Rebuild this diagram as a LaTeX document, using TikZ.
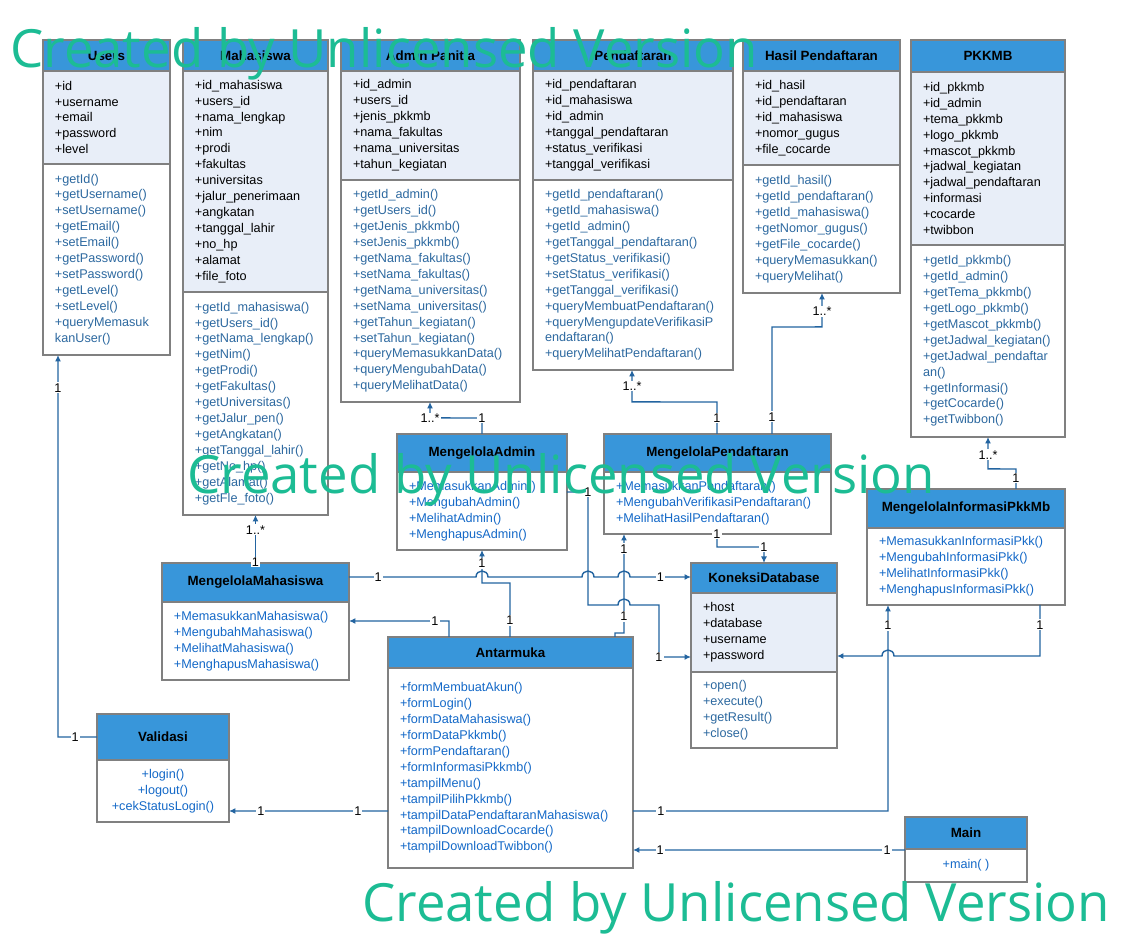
\documentclass[tikz,border=0pt]{standalone}
\usepackage{fontspec}
\setmainfont{Liberation Sans}
\newfontfamily\wmfont{Open Sans}
\usepackage{xcolor}
\usepackage{tikz}
\usetikzlibrary{positioning,calc,arrows.meta}

\definecolor{headblue}{RGB}{56,150,218}
\definecolor{attrfill}{RGB}{232,238,248}
\definecolor{boxgray}{RGB}{128,128,128}
\definecolor{methdark}{RGB}{45,105,160}
\definecolor{methblue}{RGB}{20,105,200}
\definecolor{linkblue}{RGB}{35,100,160}
\definecolor{wmgreen}{RGB}{28,188,148}
\newcommand{\bodyfont}{\fontsize{7.2}{9.07}\selectfont}
\newcommand{\headfont}{\fontsize{7.6}{9.07}\selectfont\bfseries}
\hyphenpenalty=10000

\begin{document}
\begin{tikzpicture}[x=0.02cm, y=-0.02cm]
    % Define styles
    \tikzstyle{head} = [rectangle, draw=boxgray, line width=0.8pt, fill=headblue, font=\headfont, inner sep=0pt, outer sep=0pt, anchor=north west]
    \tikzstyle{attr} = [rectangle, draw=boxgray, line width=0.8pt, fill=attrfill, font=\bodyfont, align=left, inner xsep=0.24cm, inner ysep=0pt, outer sep=0pt]
    \tikzstyle{meth} = [rectangle, draw=boxgray, line width=0.8pt, fill=white, text=methdark, font=\bodyfont, align=left, inner xsep=0.24cm, inner ysep=0pt, outer sep=0pt]
    \tikzstyle{ctrl} = [meth, text=methblue]
    \tikzstyle{mult} = [fill=white, inner sep=0.6pt, font=\bodyfont, text=black]
    \tikzstyle{conn} = [draw=linkblue, line width=0.8pt, -{Latex[length=1.3mm, width=1.2mm]}]
    \tikzstyle{hop} = [insert path={.. controls +(0,-8) and +(0,-8) .. ++(12,0)}]
    \tikzstyle{hopl} = [insert path={.. controls +(0,-8) and +(0,-8) .. ++(-12,0)}]
    \tikzstyle{wm} = [text=wmgreen, font=\wmfont\fontsize{30}{36}\selectfont, inner sep=0pt, anchor=base west]

    \fill[white] (0,0) rectangle (1123,945);
    \useasboundingbox (0,0) rectangle (1123,945);

    % Entity classes
    \node[head, minimum width=2.54cm, minimum height=0.62cm] (usersH) at (43,40) {Users};
    \node[attr, text width=2.06cm, minimum height=1.86cm, below=0pt of usersH] (usersA) {+id\\+username\\+email\\+password\\+level};
    \node[meth, text width=2.06cm, minimum height=3.82cm, below=0pt of usersA] (usersM) {+getId()\\+getUsername()\\+setUsername()\\+getEmail()\\+setEmail()\\+getPassword()\\+setPassword()\\+getLevel()\\+setLevel()\\+queryMemasuk\\kanUser()};

    \node[head, minimum width=2.90cm, minimum height=0.62cm] (mhsH) at (183,40) {Mahasiswa};
    \node[attr, text width=2.42cm, minimum height=4.42cm, below=0pt of mhsH] (mhsA) {+id\_mahasiswa\\+users\_id\\+nama\_lengkap\\+nim\\+prodi\\+fakultas\\+universitas\\+jalur\_penerimaan\\+angkatan\\+tanggal\_lahir\\+no\_hp\\+alamat\\+file\_foto};
    \node[meth, text width=2.42cm, minimum height=4.46cm, below=0pt of mhsA] (mhsM) {+getId\_mahasiswa()\\+getUsers\_id()\\+getNama\_lengkap()\\+getNim()\\+getProdi()\\+getFakultas()\\+getUniversitas()\\+getJalur\_pen()\\+getAngkatan()\\+getTanggal\_lahir()\\+getNo\_hp()\\+getAlamat()\\+getFle\_foto()};

    \node[head, minimum width=3.58cm, minimum height=0.62cm] (adminH) at (341,40) {Admin Panitia};
    \node[attr, text width=3.10cm, minimum height=2.18cm, below=0pt of adminH] (adminA) {+id\_admin\\+users\_id\\+jenis\_pkkmb\\+nama\_fakultas\\+nama\_universitas\\+tahun\_kegiatan};
    \node[meth, text width=3.10cm, minimum height=4.44cm, below=0pt of adminA] (adminM) {+getId\_admin()\\+getUsers\_id()\\+getJenis\_pkkmb()\\+setJenis\_pkkmb()\\+getNama\_fakultas()\\+setNama\_fakultas()\\+getNama\_universitas()\\+setNama\_universitas()\\+getTahun\_kegiatan()\\+setTahun\_kegiatan()\\+queryMemasukkanData()\\+queryMengubahData()\\+queryMelihatData()};

    \node[head, minimum width=4.00cm, minimum height=0.62cm] (daftarH) at (533,40) {Pendaftaran};
    \node[attr, text width=3.52cm, minimum height=2.18cm, below=0pt of daftarH] (daftarA) {+id\_pendaftaran\\+id\_mahasiswa\\+id\_admin\\+tanggal\_pendaftaran\\+status\_verifikasi\\+tanggal\_verifikasi};
    \node[meth, text width=3.52cm, minimum height=3.80cm, below=0pt of daftarA] (daftarM) {+getId\_pendaftaran()\\+getId\_mahasiswa()\\+getId\_admin()\\+getTanggal\_pendaftaran()\\+getStatus\_verifikasi()\\+setStatus\_verifikasi()\\+getTanggal\_verifikasi()\\+queryMembuatPendaftaran()\\+queryMengupdateVerifikasiP\\endaftaran()\\+queryMelihatPendaftaran()};

    \node[head, minimum width=3.14cm, minimum height=0.62cm] (hasilH) at (743,40) {Hasil Pendaftaran};
    \node[attr, text width=2.66cm, minimum height=1.88cm, below=0pt of hasilH] (hasilA) {+id\_hasil\\+id\_pendaftaran\\+id\_mahasiswa\\+nomor\_gugus\\+file\_cocarde};
    \node[meth, text width=2.66cm, minimum height=2.56cm, below=0pt of hasilA] (hasilM) {+getId\_hasil()\\+getId\_pendaftaran()\\+getId\_mahasiswa()\\+getNomor\_gugus()\\+getFile\_cocarde()\\+queryMemasukkan()\\+queryMelihat()};

    \node[head, minimum width=3.08cm, minimum height=0.64cm] (pkkmbH) at (911,40) {PKKMB};
    \node[attr, text width=2.60cm, minimum height=3.46cm, below=0pt of pkkmbH] (pkkmbA) {+id\_pkkmb\\+id\_admin\\+tema\_pkkmb\\+logo\_pkkmb\\+mascot\_pkkmb\\+jadwal\_kegiatan\\+jadwal\_pendaftaran\\+informasi\\+cocarde\\+twibbon};
    \node[meth, text width=2.60cm, minimum height=3.84cm, below=0pt of pkkmbA] (pkkmbM) {+getId\_pkkmb()\\+getId\_admin()\\+getTema\_pkkmb()\\+getLogo\_pkkmb()\\+getMascot\_pkkmb()\\+getJadwal\_kegiatan()\\+getJadwal\_pendaftar\\an()\\+getInformasi()\\+getCocarde()\\+getTwibbon()};

    % Controller classes
    \node[head, minimum width=3.40cm, minimum height=0.76cm] (kAdminH) at (397,434) {MengelolaAdmin};
    \node[ctrl, text width=2.92cm, minimum height=1.56cm, below=0pt of kAdminH] (kAdminM) {+MemasukkanAdmin()\\+MengubahAdmin()\\+MelihatAdmin()\\+MenghapusAdmin()};

    \node[head, minimum width=4.54cm, minimum height=0.76cm] (kDaftarH) at (604,434) {MengelolaPendaftaran};
    \node[ctrl, text width=4.06cm, minimum height=1.24cm, below=0pt of kDaftarH] (kDaftarM) {+MemasukkanPendaftaran()\\+MengubahVerifikasiPendaftaran()\\+MelihatHasilPendaftaran()};

    \node[head, minimum width=3.96cm, minimum height=0.78cm] (kInfoH) at (867,489) {MengelolaInformasiPkkMb};
    \node[ctrl, text width=3.48cm, minimum height=1.54cm, below=0pt of kInfoH] (kInfoM) {+MemasukkanInformasiPkk()\\+MengubahInformasiPkk()\\+MelihatInformasiPkk()\\+MenghapusInformasiPkk()};

    \node[head, minimum width=3.74cm, minimum height=0.78cm] (kMhsH) at (162,563) {MengelolaMahasiswa};
    \node[ctrl, text width=3.26cm, minimum height=1.56cm, below=0pt of kMhsH] (kMhsM) {+MemasukkanMahasiswa()\\+MengubahMahasiswa()\\+MelihatMahasiswa()\\+MenghapusMahasiswa()};

    \node[head, minimum width=2.92cm, minimum height=0.60cm] (dbH) at (691,563) {KoneksiDatabase};
    \node[attr, text width=2.44cm, minimum height=1.58cm, below=0pt of dbH] (dbA) {+host\\+database\\+username\\+password};
    \node[meth, text width=2.44cm, minimum height=1.52cm, below=0pt of dbA] (dbM) {+open()\\+execute()\\+getResult()\\+close()};

    \node[head, minimum width=4.90cm, minimum height=0.62cm] (uiH) at (388,637) {Antarmuka};
    \node[ctrl, text width=4.42cm, minimum height=4.00cm, below=0pt of uiH] (uiM) {+formMembuatAkun()\\+formLogin()\\+formDataMahasiswa()\\+formDataPkkmb()\\+formPendaftaran()\\+formInformasiPkkmb()\\+tampilMenu()\\+tampilPilihPkkmb()\\+tampilDataPendaftaranMahasiswa()\\+tampilDownloadCocarde()\\+tampilDownloadTwibbon()};

    \node[head, minimum width=2.64cm, minimum height=0.92cm] (validH) at (97,714) {Validasi};
    \node[ctrl, align=center, minimum width=2.64cm, minimum height=1.24cm, inner xsep=0pt, below=0pt of validH] (validM) {+login()\\+logout()\\+cekStatusLogin()};

    \node[head, minimum width=2.44cm, minimum height=0.64cm] (mainH) at (905,817) {Main};
    \node[ctrl, align=center, minimum width=2.44cm, minimum height=0.66cm, inner xsep=0pt, below=0pt of mainH] (mainM) {+main( )};

    % Arrows
    \draw[conn] (validH.west) -- node[mult, pos=0.56]{1} ++(-39,0) -- node[mult, pos=0.914]{1} ($(usersM.south west)+(15,0)$);
    \draw[conn] (kMhsH.north) -- node[mult, pos=0.02]{1} node[mult, pos=0.69]{1..*} (kMhsH.north |- mhsM.south);
    \draw[conn] (kAdminH.north) -- ++(0,-16) node[mult]{1} -- ($(adminM.south west)+(89,16)$) node[mult]{1..*} -- ($(adminM.south west)+(89,0)$);
    \draw[conn] ($(kDaftarH.north west)+(113,0)$) -- node[mult]{1} ++(0,-32) -- ($(daftarM.south west)+(99,32)$) -- node[mult]{1..*} ($(daftarM.south west)+(99,0)$);
    \draw[conn] ($(kDaftarH.north west)+(168,0)$) -- node[mult, pos=0.16]{1} ++(0,-107) -- ($(hasilM.south west)+(79,34)$) -- node[mult, pos=0.45]{1..*} ($(hasilM.south west)+(79,0)$);
    \draw[conn] ($(kInfoH.north west)+(149,0)$) -- node[mult, pos=0.55]{1} ++(0,-20) -- ($(pkkmbM.south west)+(77,32)$) -- node[mult, pos=0.44]{1..*} ($(pkkmbM.south west)+(77,0)$);
    \draw[conn] ($(kMhsH.north east)+(0,14)$) -- node[mult, pos=0.23]{1} (476,577) [hop] -- (582,577) [hop] -- (618,577) [hop] -- node[mult, pos=0.5]{1} ($(dbH.north west)+(0,14)$);
    \draw[conn] ($(kAdminM.north east)+(0,20)$) -- (588,492) node[mult]{1} -- (588,605) -- (618,605) [hop] -- (659,605) -- (659,657) node[mult]{1} -- ($(dbA.north west)+(0,64)$);
    \draw[conn] ($(uiH.north west)+(227,0)$) -- ++(0,-4) -- ++(9,0) -- node[mult, pos=0.17]{1} node[mult, pos=0.85]{1} ($(kDaftarM.south west)+(20,0)$);
    \draw[conn] ($(uiH.north west)+(122,0)$) -- node[mult, pos=0.31]{1} ++(0,-54) -- ($(kAdminM.south)+(0,33)$) -- node[mult, pos=0.6]{1} (kAdminM.south);
    \draw[conn] ($(uiH.north west)+(61,0)$) -- ++(0,-16) -- node[mult, pos=0.14]{1} ($(kMhsM.north east)+(0,19)$);
    \draw[conn] ($(uiM.north west)+(0,143)$) -- node[mult, pos=0.19]{1} node[mult, pos=0.8]{1} ($(validM.north east)+(0,51)$);
    \draw[conn] ($(uiM.north east)+(0,143)$) -- node[mult, pos=0.11]{1} ($(kInfoM.south west)+(21,206)$) -- node[mult, pos=0.9]{1} ($(kInfoM.south west)+(21,0)$);
    \draw[conn] ($(kInfoM.south west)+(173,0)$) -- node[mult, pos=0.39]{1} ++(0,51) -- (894,656) [hopl] -- ($(dbA.north east)+(0,63)$);
    \draw[conn] ($(mainM.north west)+(0,1)$) -- node[mult, pos=0.066]{1} node[mult, pos=0.9]{1} ($(uiM.north east)+(0,182)$);
    \draw[conn] ($(kDaftarM.south west)+(113,0)$) node[mult]{1} -- ++(0,13) -- ($(dbH.north)+(0,-16)$) node[mult]{1} -- (dbH.north);

    % Watermark
    \node[wm] (wmTop) at (10,68) {Created by Unlicensed Version};
    \node[wm] (wmMid) at (187,494) {Created by Unlicensed Version};
    \node[wm] (wmBot) at (362,921) {Created by Unlicensed Version};
\end{tikzpicture}
\end{document}
